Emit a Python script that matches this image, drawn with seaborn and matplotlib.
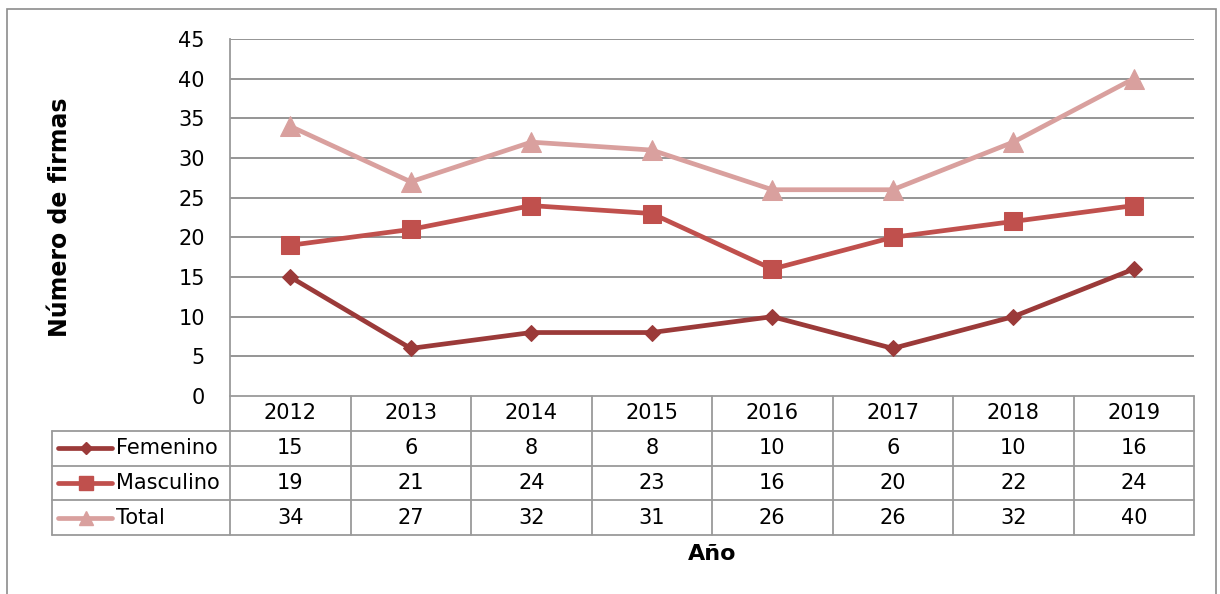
import matplotlib
matplotlib.use("Agg")
import matplotlib.pyplot as plt
import seaborn as sns
import pandas as pd
from matplotlib.lines import Line2D
from matplotlib.patches import Rectangle

# Data
years = ['2012', '2013', '2014', '2015', '2016', '2017', '2018', '2019']
femenino = [15, 6, 8, 8, 10, 6, 10, 16]
masculino = [19, 21, 24, 23, 16, 20, 22, 24]
total = [34, 27, 32, 31, 26, 26, 32, 40]
series_names = ['Femenino', 'Masculino', 'Total']
y_ticks = [0, 5, 10, 15, 20, 25, 30, 35, 40, 45]

colors = {'Femenino': '#9B3A39', 'Masculino': '#C0504D', 'Total': '#D9A09E'}
markers = {'Femenino': 'D', 'Masculino': 's', 'Total': '^'}
msize = {'Femenino': 8, 'Masculino': 13, 'Total': 14}

df = pd.DataFrame({'Año': years * 3,
                   'Serie': ['Femenino'] * 8 + ['Masculino'] * 8 + ['Total'] * 8,
                   'Valor': femenino + masculino + total})

sns.set_style('white')
plt.rcParams['font.family'] = ['DejaVu Sans']
plt.rcParams['text.color'] = 'black'
plt.rcParams['ytick.color'] = 'black'

W, H = 1220, 594
fig = plt.figure(figsize=(W / 100, H / 100), dpi=100)

def px_axes(x0, y0, x1, y1):
    return fig.add_axes([x0 / W, 1 - y1 / H, (x1 - x0) / W, (y1 - y0) / H])

grid_col = '#8C8C8C'
line_col = '#9A9A9A'
fs = 15

# outer border
fig.patches.append(Rectangle((7 / W, -0.05), (1216 - 7) / W, 1 - 9 / H + 0.05,
                             transform=fig.transFigure, fill=False,
                             edgecolor='#8C8C8C', lw=1.2))

# main plot
ax = px_axes(230, 39, 1194, 396)
for name in series_names:
    sub = df[df['Serie'] == name]
    sns.lineplot(data=sub, x='Año', y='Valor', ax=ax, color=colors[name],
                 lw=3.4, marker=markers[name], markersize=msize[name],
                 markeredgecolor=colors[name], sort=False, legend=False)
ax.set_xlim(-0.5, len(years) - 0.5)
ax.set_ylim(0, 45)
ax.set_yticks(y_ticks)
ax.set_yticklabels([str(t) for t in y_ticks], fontsize=fs)
ax.set_xticks([])
ax.set_xlabel('')
ax.set_ylabel('')
ax.tick_params(axis='y', length=0, pad=18)
for t in y_ticks[1:]:
    ax.axhline(t, color=grid_col, lw=1.3, zorder=0)
for s in ['top', 'right', 'bottom']:
    ax.spines[s].set_visible(False)
ax.spines['left'].set_color(line_col)
ax.spines['left'].set_linewidth(1.3)

fig.text(60 / W, 1 - 217 / H, 'Número de firmas', rotation=90, ha='center',
         va='center', fontsize=17, fontweight='bold')

# data table
ncol = len(years)
col_w = (1194 - 230) / ncol
leg_w = (230 - 52) / col_w
tab = px_axes(52, 396, 1194, 535)
tab.set_xlim(-leg_w, ncol)
tab.set_ylim(4, 0)
tab.axis('off')
tab.plot([0, 0], [0, 4], color=line_col, lw=1.3, clip_on=False)
tab.plot([ncol, ncol], [0, 4], color=line_col, lw=1.3, clip_on=False)
tab.plot([-leg_w, -leg_w], [1, 4], color=line_col, lw=1.3, clip_on=False)
for i in range(1, ncol):
    tab.plot([i, i], [0, 4], color=line_col, lw=1.3, clip_on=False)
tab.plot([0, ncol], [0, 0], color=line_col, lw=1.3, clip_on=False)
for r in range(1, 5):
    tab.plot([-leg_w, ncol], [r, r], color=line_col, lw=1.3, clip_on=False)
for i, yr in enumerate(years):
    tab.text(i + 0.5, 0.5, yr, ha='center', va='center', fontsize=fs)
values = {'Femenino': femenino, 'Masculino': masculino, 'Total': total}
for r, name in enumerate(series_names, start=1):
    yc = r + 0.5
    tab.add_line(Line2D([-leg_w + 0.05, -leg_w + 0.5], [yc, yc], color=colors[name],
                        lw=3.4, solid_capstyle='round'))
    tab.plot([-leg_w + 0.28], [yc], marker=markers[name], color=colors[name],
             markersize=msize[name] * 0.75, clip_on=False)
    tab.text(-leg_w + 0.53, yc, name, ha='left', va='center', fontsize=fs)
    for i, v in enumerate(values[name]):
        tab.text(i + 0.5, yc, str(v), ha='center', va='center', fontsize=fs)

fig.text(712 / W, 1 - 554 / H, 'Año', ha='center', va='center',
         fontsize=16, fontweight='bold')

fig.savefig('out.png', dpi=100)
